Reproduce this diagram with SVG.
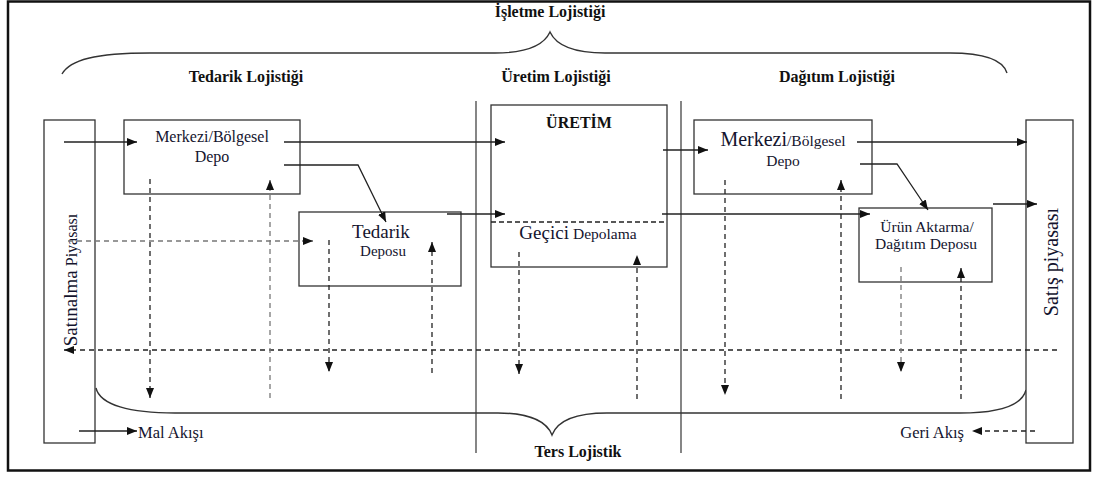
<svg xmlns="http://www.w3.org/2000/svg" width="1097" height="477" viewBox="0 0 1097 477">
  <style>
    .frame { fill: #fff; stroke: #111; stroke-width: 2.5; }
    .box { fill: #fff; stroke: #333; stroke-width: 1.3; }
    .sep { stroke: #444; stroke-width: 1.3; fill: none; }
    .brace { stroke: #333; stroke-width: 1.4; fill: none; }
    .flow { stroke: #222; stroke-width: 1.3; fill: none; marker-end: url(#head); }
    .back { stroke: #222; stroke-width: 1.3; fill: none; stroke-dasharray: 5 4; marker-end: url(#head); }
    .back.light { stroke: #777; }
    .hdr { font-family: "Liberation Serif", "Times New Roman", serif; font-weight: bold; font-size: 16px; fill: #111; text-anchor: middle; }
    .lbl { font-family: "Liberation Serif", "Times New Roman", serif; font-size: 16px; fill: #14142e; text-anchor: middle; }
    .s15 { font-size: 15px; }
    .s155 { font-size: 15.5px; }
    .s165 { font-size: 16.5px; }
    .s19 { font-size: 19px; }
    .s20 { font-size: 20px; }
    .start { text-anchor: start; }
    .end { text-anchor: end; }
  </style>
  <defs>
    <marker id="head" markerUnits="userSpaceOnUse" markerWidth="12" markerHeight="10" refX="10" refY="4" orient="auto">
      <path d="M0,0 L10,4 L0,8 Z" fill="#111"/>
    </marker>
  </defs>

  <rect class="frame" x="8" y="1.5" width="1082" height="469"/>

  <!-- section dividers -->
  <g id="dividers">
    <line class="sep" x1="476" y1="101" x2="476" y2="453"/>
    <line class="sep" x1="681" y1="101" x2="681" y2="453"/>
  </g>

  <!-- braces and headings -->
  <g id="isletme">
    <path class="brace" d="M62,74 C70,60 95,53 150,53 L495,53 C528,53 544,45 550,32 C556,45 572,53 605,53 L950,53 C985,53 1003,60 1007,73"/>
    <text class="hdr" x="550" y="17">İşletme Lojistiği</text>
  </g>
  <g id="headings">
    <text class="hdr" x="246" y="82">Tedarik Lojistiği</text>
    <text class="hdr" x="556" y="82">Üretim Lojistiği</text>
    <text class="hdr" x="837" y="82">Dağıtım Lojistiği</text>
  </g>
  <g id="ters">
    <path class="brace" d="M96,388 C100,405 130,413 175,413 L498,413 C530,413 547,422 552,435 C557,422 574,413 607,413 L960,413 C1000,413 1022,405 1026,390"/>
    <text class="hdr" x="578" y="457">Ters Lojistik</text>
  </g>

  <!-- markets -->
  <g id="satinalma">
    <rect class="box" x="44" y="120" width="51" height="323"/>
    <text class="lbl" transform="translate(77,280) rotate(-90)"><tspan class="s19">Satınalma</tspan> <tspan>Piyasası</tspan></text>
  </g>
  <g id="satis">
    <rect class="box" x="1026" y="120" width="47" height="323"/>
    <text class="lbl s20" transform="translate(1058,262) rotate(-90)">Satış piyasası</text>
  </g>

  <!-- supply side -->
  <g id="merkezi-tedarik">
    <rect class="box" x="124" y="120" width="176" height="74"/>
    <text class="lbl" x="212" y="142">Merkezi/Bölgesel</text>
    <text class="lbl" x="212" y="162">Depo</text>
  </g>
  <g id="tedarik-deposu">
    <rect class="box" x="299" y="212" width="162" height="74"/>
    <text class="lbl s19" x="381" y="238">Tedarik</text>
    <text class="lbl s15" x="383" y="256">Deposu</text>
  </g>

  <!-- production -->
  <g id="uretim">
    <rect class="box" x="491" y="105" width="176" height="162"/>
    <line x1="491" y1="222" x2="667" y2="222" stroke="#222" stroke-width="1.3" stroke-dasharray="5 3"/>
    <text class="hdr" x="579" y="128">ÜRETİM</text>
    <text class="lbl" x="578" y="239"><tspan class="s19">Geçici</tspan> <tspan class="s155">Depolama</tspan></text>
  </g>

  <!-- distribution side -->
  <g id="merkezi-dagitim">
    <rect class="box" x="694" y="120" width="178" height="74"/>
    <text class="lbl" x="783" y="146"><tspan class="s20">Merkezi</tspan><tspan class="s155">/Bölgesel</tspan></text>
    <text class="lbl s155" x="783" y="166">Depo</text>
  </g>
  <g id="urun-aktarma">
    <rect class="box" x="859" y="208" width="133" height="74"/>
    <text class="lbl s155" x="927" y="232">Ürün Aktarma/</text>
    <text class="lbl s155" x="926" y="249">Dağıtım Deposu</text>
  </g>

  <!-- legend -->
  <g id="legend">
    <text class="lbl s165 start" x="138" y="438">Mal Akışı</text>
    <text class="lbl s165 end" x="964" y="438">Geri Akış</text>
  </g>

  <g id="connectors">
    <!-- forward goods flow -->
    <path class="flow" d="M64,142 H137"/>
    <path class="flow" d="M284,142 H505"/>
    <path class="flow" d="M284,165 H358 L386,222"/>
    <path class="flow" d="M447,214 H505"/>
    <path class="flow" d="M663,150 H708"/>
    <path class="flow" d="M662,214 H870"/>
    <path class="flow" d="M857,142 H1027"/>
    <path class="flow" d="M860,164 H897 L928,210"/>
    <path class="flow" d="M993,204 H1037"/>
    <path class="flow" d="M79,431 H137"/>

    <!-- reverse flow -->
    <path class="back light" d="M68,241 H313"/>
    <path class="back" d="M1057,350 H64"/>
    <path class="back" d="M1035,431 H972"/>
    <path class="back" d="M150,179 V398"/>
    <path class="back light" d="M270,398 V180"/>
    <path class="back" d="M329,240 V372"/>
    <path class="back" d="M432,373 V242"/>
    <path class="back" d="M519,252 V374"/>
    <path class="back" d="M637,399 V255"/>
    <path class="back" d="M725,180 V395"/>
    <path class="back" d="M841,399 V180"/>
    <path class="back light" d="M901,267 V372"/>
    <path class="back" d="M961,399 V268"/>
  </g>
</svg>
